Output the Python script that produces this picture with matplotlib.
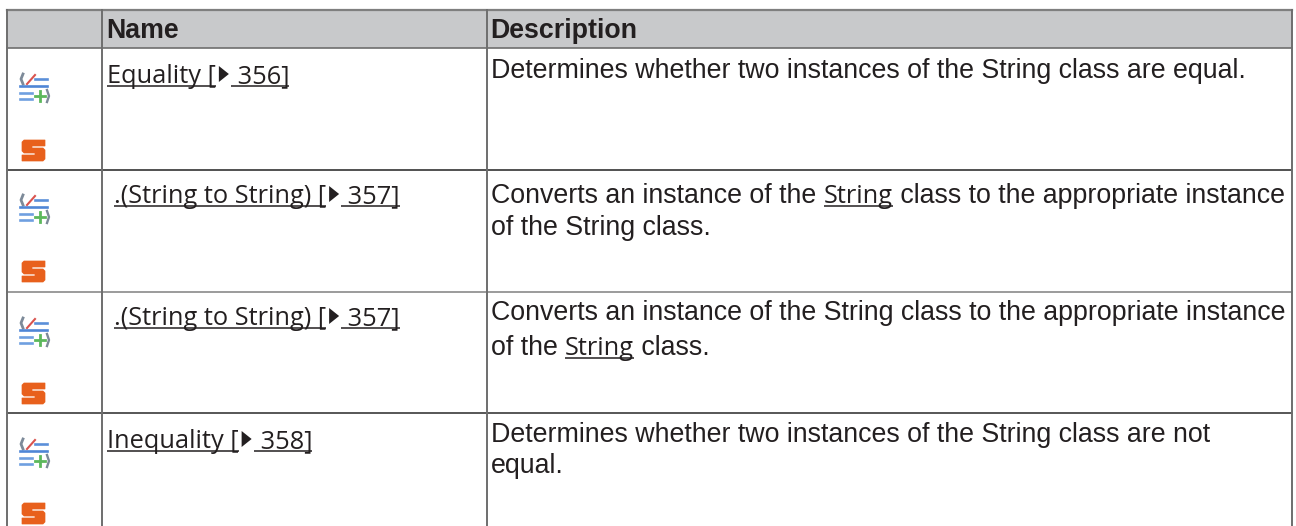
import matplotlib
matplotlib.use('Agg')
import matplotlib.pyplot as plt
from matplotlib.patches import Polygon, Rectangle

W, H = 1296, 526
TEXT = '#231f20'
NAME_FONT = 'Open Sans'
DESC_FONT = 'Liberation Sans'
NAME_SIZE = 18.3
DESC_SIZE = 19.25

headers = ['Name', 'Description']
name_before = ['Equality [', '.(String to String) [', '.(String to String) [', 'Inequality [']
name_after = [' 356]', ' 357]', ' 357]', ' 358]']
# each description line is a list of (text, underlined) runs
descriptions = [
    [[('Determines whether two instances of the String class are equal.', False)]],
    [[('Converts an instance of the ', False), ('String', True), (' class to the appropriate instance', False)],
     [('of the String class.', False)]],
    [[('Converts an instance of the String class to the appropriate instance', False)],
     [('of the ', False), ('String', True), (' class.', False)]],
    [[('Determines whether two instances of the String class are not', False)],
     [('equal.', False)]],
]

# layout, in pixels
row_tops = [48, 170, 292, 413]
row_colors = ['#6e6e6e', '#333333', '#8a8a8a', '#3a3a3a']
col_lines = [7, 102, 487, 1292]
name_x = [107, 114, 114, 107]
name_base = [83, 203, 325, 448]
desc_base = [[78], [203, 235], [320, 355], [442, 473]]
icon_top = [73, 194, 317, 438]
s_top = [140, 261, 383, 503]

fig = plt.figure(figsize=(W / 100, H / 100), dpi=100)
ax = fig.add_axes([0, 0, 1, 1])
ax.set_xlim(0, W)
ax.set_ylim(H, 0)
ax.axis('off')
renderer = fig.canvas.get_renderer()


def put_run(x, y, s, size, font, underline=False, weight='normal'):
    """Draw one run of text and return where the next one starts."""
    ax.text(x, y, s, fontsize=size, family=font, color=TEXT, weight=weight,
            va='baseline', ha='left')
    # measure with a placeholder so leading and trailing spaces count
    probe = ax.text(0, 0, '|' + s + '|', fontsize=size, family=font, weight=weight)
    bar = ax.text(0, 0, '||', fontsize=size, family=font, weight=weight)
    w = probe.get_window_extent(renderer).width - bar.get_window_extent(renderer).width
    probe.remove()
    bar.remove()
    if underline:
        ax.plot([x, x + w], [y + 2.5, y + 2.5], color=TEXT, lw=1.1, solid_capstyle='butt')
    return x + w


def draw_icons(oy, sy):
    # method icon
    ox = 19
    ax.plot([ox + 4, ox + 2, ox + 4], [oy + 1, oy + 6, oy + 11], color='#7d8a99', lw=2.0)
    ax.plot([ox + 8, ox + 16], [oy + 11, oy + 2], color='#d9534f', lw=1.5)
    ax.plot([ox + 16, ox + 28], [oy + 6, oy + 6], color='#5b8fd9', lw=1.9)
    ax.plot([ox + 1, ox + 28], [oy + 13, oy + 13], color='#4f86d6', lw=1.9)
    ax.plot([ox + 1, ox + 13], [oy + 20, oy + 20], color='#6f9fe0', lw=1.9)
    ax.plot([ox + 1, ox + 13], [oy + 26, oy + 26], color='#6f9fe0', lw=1.9)
    ax.plot([ox + 16, ox + 26], [oy + 23, oy + 23], color='#5cb85c', lw=2.0)
    ax.plot([ox + 21, ox + 21], [oy + 18, oy + 28], color='#5cb85c', lw=2.0)
    ax.plot([ox + 28, ox + 30, ox + 28], [oy + 17, oy + 23, oy + 29], color='#7d8a99', lw=1.7)
    # static icon, a blocky orange S
    sx = 22
    s_shape = [(2, 0), (23, 0), (23, 6), (10, 6), (10, 8), (21, 8), (23, 10), (23, 19),
               (21, 21), (0, 21), (0, 15), (13, 15), (13, 13), (2, 13), (0, 11), (0, 2)]
    ax.add_patch(Polygon([(sx + a, sy + b) for a, b in s_shape], closed=True,
                         facecolor='#e8601c', edgecolor='#e8601c', lw=0.5))


# header band
ax.add_patch(Rectangle((col_lines[0], 10), col_lines[-1] - col_lines[0], row_tops[0] - 10,
                       facecolor='#c8c9cb', edgecolor='none', zorder=0))

# grid
ax.plot([col_lines[0], col_lines[-1]], [10, 10], color='#7f7f7f', lw=1.6)
for y, c in zip(row_tops, row_colors):
    ax.plot([col_lines[0], col_lines[-1]], [y, y], color=c, lw=1.2)
for x in col_lines:
    ax.plot([x, x], [10, H], color='#6e6e6e', lw=1.4)

put_run(106.5, 38, headers[0], DESC_SIZE, DESC_FONT, weight='bold')
put_run(490.5, 38, headers[1], DESC_SIZE, DESC_FONT, weight='bold')

for i in range(4):
    draw_icons(icon_top[i], s_top[i])
    base = name_base[i]
    # name cell: underlined link with the arrow in between
    x = put_run(name_x[i], base, name_before[i], NAME_SIZE, NAME_FONT, underline=True)
    ax.add_patch(Polygon([(x + 3, base - 17), (x + 3, base - 1), (x + 13, base - 9)], closed=True,
                         facecolor=TEXT, edgecolor='none'))
    put_run(x + 15, base, name_after[i], NAME_SIZE, NAME_FONT, underline=True)
    # description cell
    for line, y in zip(descriptions[i], desc_base[i]):
        x = 491
        for s, under in line:
            if under:
                x = put_run(x, y, s, NAME_SIZE, NAME_FONT, underline=True)
            else:
                x = put_run(x, y, s, DESC_SIZE, DESC_FONT)

fig.savefig('out.png', dpi=100)
